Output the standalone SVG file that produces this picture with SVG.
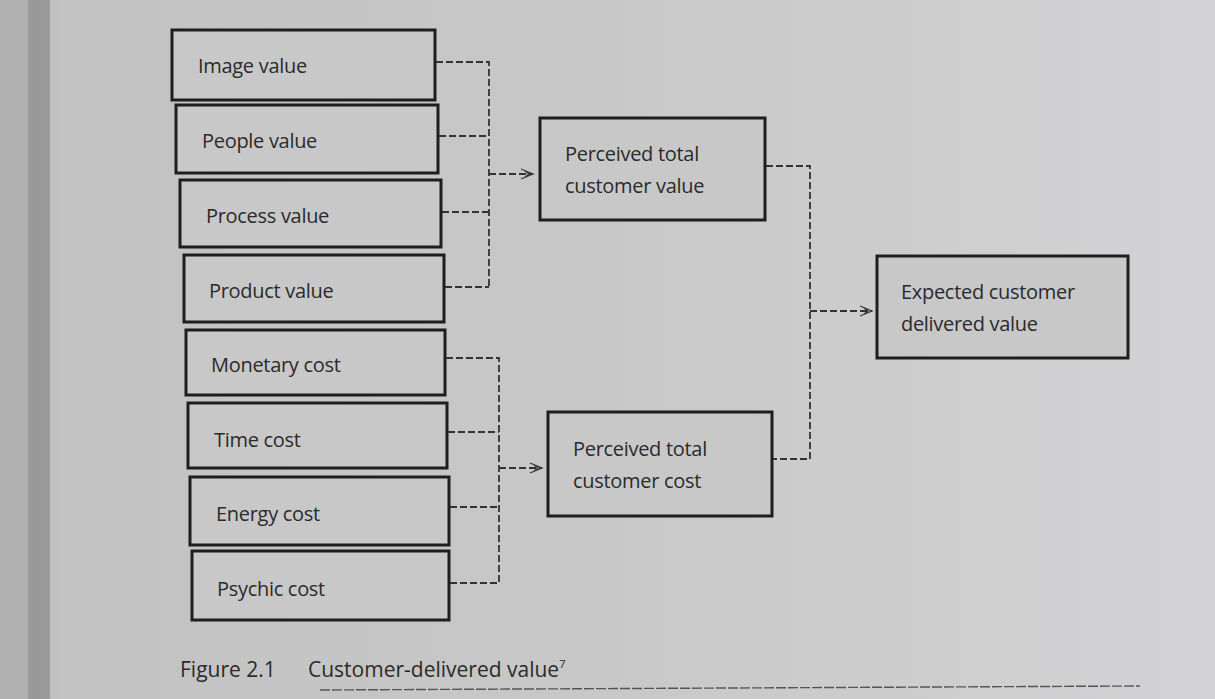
<svg xmlns="http://www.w3.org/2000/svg" width="1215" height="699" viewBox="0 0 1215 699">
<defs>
<linearGradient id="bg" x1="0" y1="0" x2="1" y2="0">
<stop offset="0" stop-color="#b4b4b4"/>
<stop offset="0.05" stop-color="#c2c2c2"/>
<stop offset="0.5" stop-color="#c8c8c8"/>
<stop offset="1" stop-color="#d3d3d5"/>
</linearGradient>
<marker id="arr" markerWidth="16" markerHeight="12" refX="14" refY="6" orient="auto" markerUnits="userSpaceOnUse">
<path d="M2,1 L14,6 L2,11 M6,3 L10,6 L6,9" fill="none" stroke="#3a3a3a" stroke-width="1.3"/>
</marker>
<style>
.box{fill:#c8c8c9;stroke:#1e1e1e;stroke-width:3}
.t{font-family:"Open Sans","Liberation Sans",sans-serif;font-size:20px;letter-spacing:-0.3px;fill:#2b2b2b}
.c{fill:none;stroke:#333;stroke-width:1.8;stroke-dasharray:7 3}
</style>
</defs>
<rect width="1215" height="699" fill="url(#bg)"/>
<rect x="0" y="0" width="28" height="699" fill="#b0b0b0"/>
<rect x="28" y="0" width="22" height="699" fill="#8a8a8a" opacity="0.7"/>
<g id="n1"><rect class="box" x="172" y="30" width="263" height="70"/><text class="t" x="198" y="73">Image value</text></g>
<g id="n2"><rect class="box" x="176" y="105" width="262" height="68"/><text class="t" x="202" y="148">People value</text></g>
<g id="n3"><rect class="box" x="180" y="180" width="261" height="67"/><text class="t" x="206" y="223">Process value</text></g>
<g id="n4"><rect class="box" x="184" y="255" width="260" height="67"/><text class="t" x="209" y="298">Product value</text></g>
<g id="n5"><rect class="box" x="186" y="330" width="259" height="65"/><text class="t" x="211" y="372">Monetary cost</text></g>
<g id="n6"><rect class="box" x="188" y="403" width="259" height="65"/><text class="t" x="214" y="447">Time cost</text></g>
<g id="n7"><rect class="box" x="190" y="477" width="259" height="68"/><text class="t" x="216" y="521">Energy cost</text></g>
<g id="n8"><rect class="box" x="192" y="551" width="257" height="69"/><text class="t" x="217" y="596">Psychic cost</text></g>
<g id="n9"><rect class="box" x="540" y="118" width="225" height="102"/><text class="t" x="565" y="161">Perceived total</text><text class="t" x="565" y="193">customer value</text></g>
<g id="n10"><rect class="box" x="548" y="412" width="224" height="104"/><text class="t" x="573" y="456">Perceived total</text><text class="t" x="573" y="488">customer cost</text></g>
<g id="n11"><rect class="box" x="877" y="256" width="251" height="102"/><text class="t" x="901" y="299">Expected customer</text><text class="t" x="901" y="331">delivered value</text></g>
<g id="connectors">
<path class="c" d="M436,62 H489 V287 M439,136 H489 M442,212 H489 M445,287 H489"/>
<path class="c" d="M489,174 H533" marker-end="url(#arr)"/>
<path class="c" d="M446,358 H499 V583 M448,432 H499 M450,507 H499 M450,583 H499"/>
<path class="c" d="M499,468 H542" marker-end="url(#arr)"/>
<path class="c" d="M766,166 H810 V459 H773"/>
<path class="c" d="M810,311 H872" marker-end="url(#arr)"/>
</g>
<text x="180" y="677" style="font-family:'Open Sans','Liberation Sans',sans-serif;font-size:21px;fill:#2b2b2b">Figure 2.1<tspan x="308">Customer-delivered value</tspan><tspan dy="-9" font-size="11">7</tspan></text>
<line x1="320" y1="690" x2="1140" y2="686" stroke="#555" stroke-width="1.4" stroke-dasharray="10 2"/>
</svg>
